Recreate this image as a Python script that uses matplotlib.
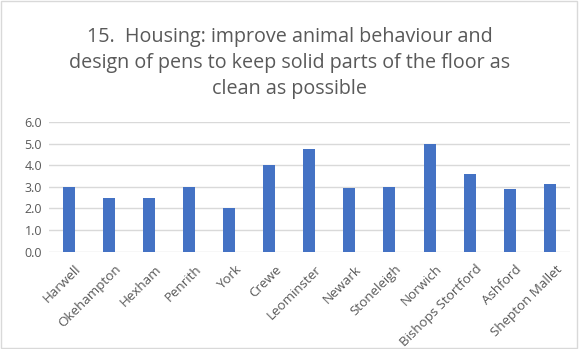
import matplotlib
matplotlib.use("Agg")
import matplotlib.pyplot as plt
from matplotlib.patches import Rectangle
from matplotlib.transforms import ScaledTranslation

# mean scores per site
sites = ["Harwell", "Okehampton", "Hexham", "Penrith", "York", "Crewe",
         "Leominster", "Newark", "Stoneleigh", "Norwich", "Bishops Stortford",
         "Ashford", "Shepton Mallet"]
scores = [3.0, 2.5, 2.5, 3.0, 2.0, 4.0, 4.75, 2.93, 3.0, 5.0, 3.6, 2.89, 3.13]
yticks = [0.0, 1.0, 2.0, 3.0, 4.0, 5.0, 6.0]

title = ("15.  Housing: improve animal behaviour and\n"
         "design of pens to keep solid parts of the floor as\n"
         "clean as possible")

grey = "#595959"
plt.rcParams["font.family"] = ["Open Sans", "DejaVu Sans"]

fig = plt.figure(figsize=(5.79, 3.49), dpi=100)
ax = fig.add_axes([0.0846, 0.279, 0.8994, 0.371])

x = range(len(sites))
ax.bar(x, scores, width=0.3, color="#4472C4", zorder=3)

ax.set_xlim(-0.5, len(sites) - 0.5)
ax.set_ylim(0, 6)
ax.set_yticks(yticks)
ax.set_yticklabels([f"{v:.1f}" for v in yticks], fontsize=9, color=grey)
ax.set_xticks(list(x))
ax.set_xticklabels(sites, rotation=45, ha="right", rotation_mode="anchor",
                   fontsize=9.6, color=grey)
ax.tick_params(length=0, pad=5)
ax.tick_params(axis="x", pad=8)
# nudge the slanted labels a little to the right of each bar
shift = ScaledTranslation(4 / 72, 0, fig.dpi_scale_trans)
for lbl in ax.get_xticklabels():
    lbl.set_transform(lbl.get_transform() + shift)
ax.grid(axis="y", color="#d9d9d9", lw=1, zorder=0)
for s in ax.spines.values():
    s.set_visible(False)

fig.text(0.5, 0.923, title, ha="center", va="top", fontsize=14.2,
         color=grey, linespacing=1.4)

# chart-area border
fig.patches.append(Rectangle((0.002, 0.003), 0.994, 0.994, transform=fig.transFigure,
                             fill=False, ec="#d9d9d9", lw=1))

fig.savefig("out.png", dpi=100)
